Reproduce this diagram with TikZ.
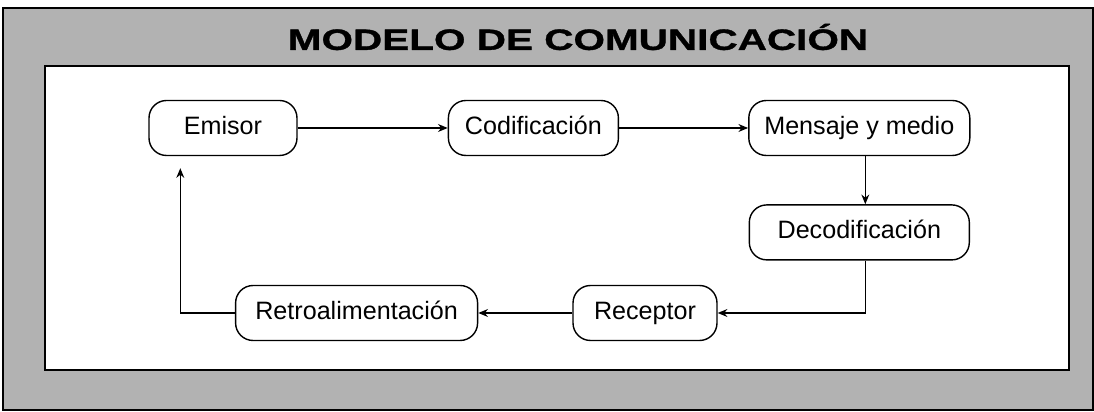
\documentclass[tikz,border=0pt]{standalone}
\usepackage{fontspec}
\setmainfont{Liberation Sans}
\newfontfamily\titlefont{Liberation Sans}[FakeStretch=1.38, FakeBold=1.2]
\usetikzlibrary{positioning}
\usetikzlibrary{arrows.meta}
\tikzset{
	block/.style={draw,
		rounded corners=0.35cm,
		minimum height=1.1cm,
		text height=10pt,
		text depth=3pt,
		line width=0.8pt,
		fill=white,
		font=\fontsize{14.3}{16}\selectfont
	},
	flow/.style={-{Stealth[length=5.5pt,width=4.5pt]}, line width=0.7pt}
}

\begin{document}
\begin{tikzpicture}
		\useasboundingbox (0,0) rectangle (21.88,-8.24);

		% Frame
		\draw[line width=1.2pt, fill=gray!60] (0.06,-0.16) rectangle (21.86,-8.2);
		\node[font=\titlefont\bfseries\fontsize{16.7}{18}\selectfont] (title) at (11.56,-0.74) {MODELO DE COMUNICACIÓN};
		\draw[line width=1.2pt, fill=white] (0.9,-1.32) rectangle (21.38,-7.4);

		% Top row
		\node[block, minimum width=2.96cm] (emisor) at (4.46,-2.56) {Emisor};
		\node[block, minimum width=3.4cm, right=3cm of emisor] (codif) {Codificación};
		\node[block, minimum width=4.42cm, right=2.58cm of codif] (mensaje) {Mensaje y medio};
		\node[block, minimum width=4.4cm, below=0.96cm of mensaje] (decod) {Decodificación};

		% Bottom row
		\node[block, minimum width=2.88cm] (receptor) at (12.9,-6.26) {Receptor};
		\node[block, minimum width=4.84cm, left=1.88cm of receptor] (retro) {Retroalimentación};

		% Arrows
		\draw[flow] (emisor.east) -- (codif.west);
		\draw[flow] (codif.east) -- (mensaje.west);
		\draw[flow] ([xshift=0.12cm]mensaje.south) -- ([xshift=0.12cm]decod.north);
		\draw[flow] ([xshift=0.12cm]decod.south) |- (receptor.east);
		\draw[flow] (receptor.west) -- (retro.east);
		\draw[flow, shorten >=0.24cm] (retro.west) -| ([xshift=0.64cm]emisor.south west);
	\end{tikzpicture}
\end{document}
